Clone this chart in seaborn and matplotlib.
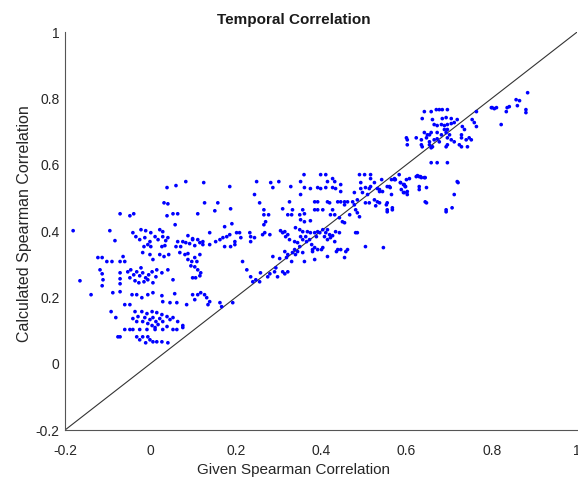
import numpy as np
import pandas as pd
import matplotlib
matplotlib.use("Agg")
import matplotlib.pyplot as plt
import seaborn as sns
from matplotlib.ticker import FuncFormatter

# ---- data ----
given_left = [-0.181, -0.165, -0.139, -0.123, -0.113, -0.102, -0.090, -0.118, -0.113, -0.111, -0.113,
              -0.095, -0.083, -0.071, -0.048, -0.039, -0.041, -0.064, -0.060, -0.071, -0.071, -0.071,
              -0.071, -0.088, -0.071, -0.092, -0.081, -0.076, -0.060, -0.048, -0.036, -0.029, -0.041,
              -0.032, -0.022, -0.011, 0.001, 0.022, 0.029, -0.034, -0.025, -0.013, -0.001, 0.011, 0.018,
              0.029, 0.036, 0.041, -0.006, 0.001, -0.015, 0.034, 0.027, 0.064, 0.076, 0.060, 0.071, 0.083,
              0.092, 0.104, 0.116, 0.123, 0.099, 0.088, 0.099, 0.111, 0.123,
              -0.053, -0.046, -0.039, -0.032, -0.025, -0.018, -0.011, -0.004, 0.004, -0.036, -0.027,
              -0.015, -0.006, 0.006, -0.048, -0.022, 0.013, 0.015, 0.027, 0.041, 0.053,
              -0.018, -0.001, 0.006, 0.022, 0.032, 0.043, 0.069, 0.081, 0.088, 0.104, 0.116, 0.088,
              0.097, 0.109, 0.095, 0.104, 0.111, 0.118, 0.116, 0.099, 0.106,
              -0.043, -0.032, -0.020, -0.006, 0.006, 0.027, 0.029, 0.046, 0.057, 0.062, 0.085, 0.099,
              0.111, 0.127, 0.132, 0.135, 0.163, 0.167, 0.118, 0.104, 0.139, 0.193,
              -0.020, -0.008, 0.004, 0.015, 0.027, -0.013, -0.001, 0.006, 0.013, 0.022, -0.006, 0.004,
              0.018, 0.029, -0.018, 0.011, 0.039, 0.046, 0.053, 0.064, 0.076, 0.039, 0.053,
              -0.071, -0.060, -0.048, -0.041, -0.025, -0.008, 0.011, 0.029, 0.062, 0.076,
              -0.032, -0.025, -0.018, -0.006, -0.001, 0.006, 0.015, 0.027, 0.041, -0.011,
              0.032, 0.041, 0.039, 0.060, 0.083, 0.039, 0.053, 0.064, 0.058, 0.111]
calc_left = [0.401, 0.250, 0.208, 0.320, 0.320, 0.308, 0.308, 0.283, 0.271, 0.253, 0.235,
             0.401, 0.371, 0.452, 0.446, 0.452, 0.395, 0.323, 0.308, 0.308, 0.274, 0.256,
             0.241, 0.214, 0.217, 0.157, 0.139, 0.081, 0.178, 0.178, 0.157, 0.142, 0.136,
             0.127, 0.404, 0.401, 0.395, 0.404, 0.398, 0.383, 0.374, 0.380, 0.368, 0.383, 0.374,
             0.383, 0.371, 0.380, 0.359, 0.353, 0.353, 0.356, 0.353, 0.368, 0.368, 0.353, 0.353, 0.365,
             0.362, 0.356, 0.365, 0.359, 0.374, 0.386, 0.377, 0.374, 0.368,
             0.277, 0.283, 0.268, 0.277, 0.265, 0.274, 0.259, 0.268, 0.277, 0.250, 0.244,
             0.247, 0.253, 0.244, 0.259, 0.289, 0.262, 0.283, 0.274, 0.283, 0.253,
             0.335, 0.329, 0.314, 0.329, 0.323, 0.329, 0.335, 0.329, 0.332, 0.320, 0.329, 0.314,
             0.308, 0.308, 0.295, 0.292, 0.283, 0.274, 0.265, 0.259, 0.259,
             0.208, 0.208, 0.199, 0.208, 0.214, 0.205, 0.187, 0.184, 0.211, 0.184, 0.178, 0.208,
             0.208, 0.208, 0.199, 0.178, 0.184, 0.172, 0.214, 0.193, 0.187, 0.184,
             0.157, 0.151, 0.157, 0.154, 0.148, 0.139, 0.133, 0.139, 0.127, 0.136, 0.121, 0.115,
             0.118, 0.127, 0.127, 0.109, 0.142, 0.133, 0.139, 0.127, 0.115, 0.112, 0.103,
             0.081, 0.103, 0.103, 0.103, 0.103, 0.103, 0.103, 0.103, 0.103, 0.109,
             0.081, 0.072, 0.081, 0.081, 0.072, 0.066, 0.066, 0.066, 0.063, 0.063,
             0.485, 0.482, 0.531, 0.537, 0.549, 0.446, 0.452, 0.452, 0.419, 0.452]

given_mid = [0.125, 0.186, 0.249, 0.282, 0.301, 0.287, 0.329, 0.360, 0.352, 0.361, 0.244, 0.352,
             0.127, 0.158, 0.151, 0.188, 0.256, 0.326, 0.310, 0.266, 0.266, 0.277, 0.270, 0.333,
             0.331, 0.322, 0.357, 0.361, 0.350, 0.352, 0.361, 0.174, 0.191, 0.139, 0.266, 0.268,
             0.263, 0.280, 0.305, 0.315, 0.310, 0.322, 0.317, 0.340, 0.350, 0.357, 0.352, 0.364,
             0.139, 0.153, 0.163, 0.170, 0.179, 0.186, 0.202, 0.198, 0.174, 0.188, 0.198, 0.209,
             0.212, 0.233, 0.235, 0.235, 0.244,
             0.216, 0.226, 0.235, 0.240, 0.256, 0.258, 0.275, 0.280, 0.291, 0.294, 0.298, 0.247,
             0.310, 0.322, 0.315, 0.287, 0.303, 0.315, 0.322, 0.333, 0.340, 0.345, 0.357, 0.361,
             0.326, 0.338, 0.345, 0.350, 0.357, 0.366, 0.373, 0.378, 0.380, 0.389, 0.401, 0.458,
             0.436, 0.338, 0.319, 0.331,
             0.399, 0.411, 0.427, 0.432, 0.415, 0.490, 0.502, 0.516, 0.516, 0.493, 0.525, 0.583,
             0.574, 0.626, 0.633, 0.644,
             0.392, 0.399, 0.411, 0.427, 0.434, 0.375, 0.446, 0.446, 0.478, 0.493, 0.497, 0.504,
             0.513, 0.516, 0.509, 0.532, 0.537, 0.544, 0.555, 0.562, 0.572, 0.586, 0.595, 0.597,
             0.602, 0.602, 0.595, 0.630, 0.644,
             0.385, 0.392, 0.415, 0.420, 0.439, 0.446, 0.455, 0.462, 0.455, 0.474, 0.485, 0.478,
             0.504, 0.513, 0.525, 0.532, 0.528, 0.537, 0.555, 0.555, 0.567,
             0.385, 0.392, 0.404, 0.427, 0.432, 0.422, 0.375, 0.443, 0.450, 0.455, 0.467, 0.481,
             0.485, 0.490,
             0.392, 0.397, 0.404, 0.411, 0.415, 0.420, 0.427, 0.434, 0.443, 0.385, 0.375, 0.368,
             0.415, 0.422, 0.432, 0.408, 0.481, 0.485,
             0.385, 0.392, 0.380, 0.404, 0.439, 0.446, 0.462, 0.504, 0.546, 0.385, 0.415, 0.455]
calc_mid = [0.546, 0.534, 0.549, 0.546, 0.549, 0.531, 0.534, 0.570, 0.549, 0.531, 0.510, 0.510,
            0.485, 0.485, 0.461, 0.467, 0.485, 0.488, 0.467, 0.464, 0.449, 0.449, 0.428, 0.464,
            0.449, 0.449, 0.464, 0.452, 0.449, 0.434, 0.428, 0.413, 0.422, 0.395, 0.419, 0.395,
            0.389, 0.389, 0.401, 0.398, 0.395, 0.389, 0.383, 0.410, 0.404, 0.398, 0.383, 0.383,
            0.359, 0.368, 0.374, 0.380, 0.383, 0.389, 0.395, 0.359, 0.353, 0.353, 0.368, 0.395,
            0.380, 0.395, 0.383, 0.368, 0.380,
            0.308, 0.283, 0.262, 0.247, 0.247, 0.274, 0.262, 0.271, 0.277, 0.289, 0.262, 0.253,
            0.277, 0.277, 0.271, 0.323, 0.317, 0.338, 0.329, 0.335, 0.329, 0.338, 0.335, 0.308,
            0.374, 0.368, 0.365, 0.353, 0.374, 0.368, 0.374, 0.359, 0.344, 0.383, 0.344, 0.338,
            0.338, 0.344, 0.320, 0.308,
            0.570, 0.570, 0.558, 0.549, 0.549, 0.570, 0.570, 0.570, 0.558, 0.546, 0.546, 0.570,
            0.555, 0.567, 0.564, 0.561,
            0.531, 0.528, 0.531, 0.531, 0.528, 0.528, 0.540, 0.519, 0.516, 0.528, 0.516, 0.531,
            0.528, 0.534, 0.510, 0.528, 0.519, 0.519, 0.534, 0.531, 0.555, 0.546, 0.540, 0.534,
            0.519, 0.510, 0.516, 0.525, 0.488,
            0.488, 0.488, 0.488, 0.485, 0.488, 0.488, 0.488, 0.488, 0.479, 0.488, 0.494, 0.479,
            0.485, 0.485, 0.494, 0.488, 0.476, 0.485, 0.485, 0.464, 0.464,
            0.464, 0.464, 0.464, 0.464, 0.449, 0.449, 0.431, 0.440, 0.428, 0.425, 0.449, 0.464,
            0.455, 0.443,
            0.398, 0.395, 0.404, 0.395, 0.404, 0.389, 0.386, 0.398, 0.395, 0.395, 0.395, 0.398,
            0.374, 0.380, 0.368, 0.383, 0.395, 0.395,
            0.350, 0.344, 0.338, 0.350, 0.344, 0.344, 0.344, 0.353, 0.350, 0.314, 0.323, 0.320]

given_right = [0.884, 0.857, 0.865, 0.860, 0.834, 0.836, 0.841, 0.880, 0.880, 0.799, 0.801, 0.806,
               0.811, 0.764, 0.822,
               0.642, 0.658, 0.670, 0.677, 0.684, 0.696, 0.637, 0.661, 0.684, 0.693, 0.705, 0.719,
               0.665, 0.672, 0.682, 0.689, 0.696, 0.705, 0.712, 0.754, 0.759, 0.764, 0.731, 0.736,
               0.729, 0.642, 0.649, 0.654, 0.658, 0.672, 0.682, 0.693, 0.701, 0.689, 0.696,
               0.600, 0.602, 0.623, 0.635, 0.647, 0.654, 0.665, 0.672, 0.677, 0.696, 0.705, 0.712,
               0.729, 0.740, 0.747, 0.752, 0.602, 0.635, 0.637, 0.654, 0.661, 0.658, 0.693, 0.696,
               0.724, 0.729, 0.743, 0.658, 0.672, 0.696,
               0.623, 0.630, 0.635, 0.642, 0.607, 0.600, 0.572, 0.565, 0.542, 0.586, 0.593, 0.588,
               0.598, 0.593, 0.630, 0.647, 0.719, 0.721, 0.560, 0.565, 0.712, 0.553, 0.567, 0.555,
               0.647, 0.693, 0.693, 0.707, 0.537]
calc_right = [0.817, 0.796, 0.793, 0.778, 0.760, 0.772, 0.775, 0.766, 0.757, 0.772, 0.772, 0.769,
              0.772, 0.760, 0.721,
              0.760, 0.760, 0.766, 0.766, 0.766, 0.766, 0.739, 0.736, 0.739, 0.742, 0.739, 0.736,
              0.721, 0.718, 0.721, 0.718, 0.721, 0.724, 0.727, 0.736, 0.727, 0.715, 0.715, 0.706,
              0.690, 0.697, 0.690, 0.690, 0.697, 0.697, 0.690, 0.697, 0.690, 0.706, 0.706,
              0.681, 0.675, 0.681, 0.675, 0.681, 0.669, 0.675, 0.678, 0.669, 0.681, 0.675, 0.669,
              0.681, 0.675, 0.681, 0.675, 0.660, 0.660, 0.654, 0.660, 0.654, 0.651, 0.654, 0.660,
              0.660, 0.654, 0.654, 0.606, 0.606, 0.606,
              0.564, 0.564, 0.561, 0.561, 0.558, 0.555, 0.558, 0.555, 0.555, 0.546, 0.540, 0.525,
              0.534, 0.516, 0.534, 0.531, 0.549, 0.546, 0.534, 0.510, 0.510, 0.479, 0.470, 0.458,
              0.485, 0.464, 0.458, 0.470, 0.525]

diag = [-0.2, 1.0]
x_ticks = [-0.2, 0, 0.2, 0.4, 0.6, 0.8, 1]
y_ticks = [-0.2, 0, 0.2, 0.4, 0.6, 0.8, 1]

df = pd.DataFrame({
    "given": given_left + given_mid + given_right,
    "calc": calc_left + calc_mid + calc_right,
})

sns.set_theme(style="white")
plt.rcParams["font.family"] = ["Liberation Sans", "DejaVu Sans"]

fig = plt.figure(figsize=(5.78, 4.83), dpi=100)
ax = fig.add_axes([0.1125, 0.1097, 0.886, 0.824])

ax.plot(diag, diag, color="#333333", lw=0.8, zorder=1)
sns.scatterplot(data=df, x="given", y="calc", ax=ax, color="#0000ff",
                s=7, linewidth=0, edgecolor="none", zorder=2)

ax.set_xlim(-0.2, 1.0)
ax.set_ylim(-0.2, 1.0)
ax.set_xticks(x_ticks)
ax.set_yticks(y_ticks)
fmt = FuncFormatter(lambda v, p: f"{v:g}")
ax.xaxis.set_major_formatter(fmt)
ax.yaxis.set_major_formatter(fmt)

for side in ["top", "right"]:
    ax.spines[side].set_visible(False)
for side in ["left", "bottom"]:
    ax.spines[side].set_color("#555555")
    ax.spines[side].set_linewidth(0.8)

ax.tick_params(axis="both", direction="in", length=4, width=0.7, color="#555555",
               labelsize=10, labelcolor="#262626")
ax.tick_params(axis="x", pad=10)
ax.tick_params(axis="y", pad=4)

ax.set_xlabel("Given Spearman Correlation", fontsize=11, color="#262626")
ax.xaxis.set_label_coords(0.447, -0.084)
ax.set_ylabel("Calculated Spearman Correlation", fontsize=11.5, color="#262626")
ax.yaxis.set_label_coords(-0.064, 0.518)
ax.set_title("Temporal Correlation", fontsize=11, fontweight="bold", color="#1a1a1a",
             x=0.447, pad=6)

fig.savefig("out.png", dpi=100)
